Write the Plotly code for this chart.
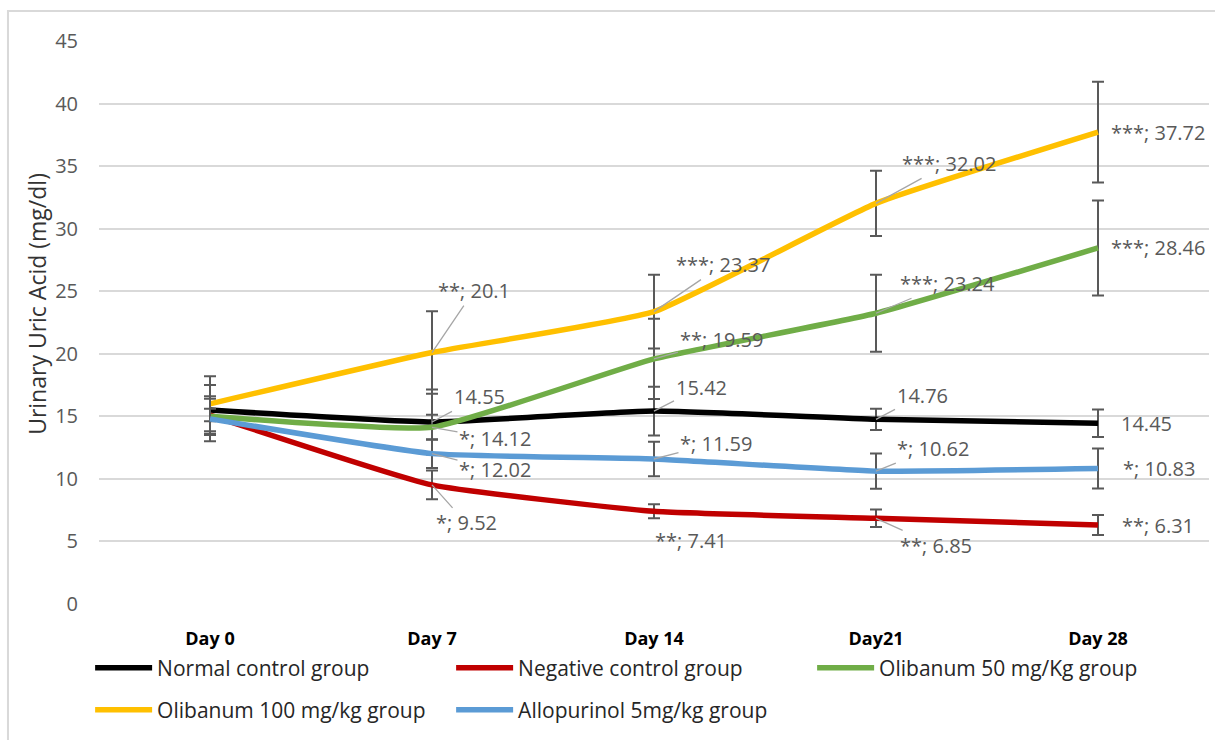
import plotly.graph_objects as go

# ---- data -------------------------------------------------------------
days = ["Day 0", "Day 7", "Day 14", "Day21", "Day 28"]

group_names = [
    "Normal control group",
    "Negative control group",
    "Olibanum 50 mg/Kg group",
    "Olibanum 100 mg/kg group",
    "Allopurinol 5mg/kg group",
]

normal = [15.5, 14.55, 15.42, 14.76, 14.45]
negative = [15.1, 9.52, 7.41, 6.85, 6.31]
olib50 = [15.0, 14.12, 19.59, 23.24, 28.46]
olib100 = [16.0, 20.1, 23.37, 32.02, 37.72]
allo = [14.8, 12.02, 11.59, 10.62, 10.83]

normal_err = [2.0, 2.6, 1.95, 0.85, 1.1]
negative_err = [0.5, 1.15, 0.56, 0.7, 0.8]
olib50_err = [1.4, 1.0, 3.2, 3.07, 3.8]
olib100_err = [2.2, 3.3, 2.95, 2.6, 4.03]
allo_err = [1.8, 1.15, 1.37, 1.4, 1.6]

normal_sig = ["", "", "", "", ""]
negative_sig = ["", "*", "**", "**", "**"]
olib50_sig = ["", "*", "**", "***", "***"]
olib100_sig = ["", "**", "***", "***", "***"]
allo_sig = ["", "*", "*", "*", "*"]

# ---- styling ----------------------------------------------------------
colors = ["#000000", "#C00000", "#70AD47", "#FFC000", "#5B9BD5"]
legend_of = ["legend", "legend", "legend", "legend2", "legend2"]

# label offsets (pixels from the point) and whether a leader line is drawn
label_offsets = [
    [None, (47, -25, True), (47, -24, True), (46, -24, True), (48, 0, False)],
    [None, (34, 38, True), (37, 29, False), (60, 27, True), (60, 0, False)],
    [None, (63, 11, True), (67, -19, True), (71, -30, True), (60, 0, False)],
    [None, (42, -62, True), (69, -47, True), (73, -40, True), (60, 0, False)],
    [None, (63, 16, True), (62, -16, True), (57, -23, True), (61, 0, False)],
]

series = [normal, negative, olib50, olib100, allo]
errors = [normal_err, negative_err, olib50_err, olib100_err, allo_err]
sigs = [normal_sig, negative_sig, olib50_sig, olib100_sig, allo_sig]

FONT = "Open Sans"
LABEL_GRAY = "#595959"

fig = go.Figure()
annotations = []

for i, (name, vals, err, sig) in enumerate(zip(group_names, series, errors, sigs)):
    fig.add_trace(
        go.Scatter(
            x=days,
            y=vals,
            name=name,
            mode="lines",
            line=dict(color=colors[i], width=5.5, shape="spline", smoothing=0.4),
            error_y=dict(
                type="data",
                array=err,
                visible=True,
                color="#595959",
                thickness=2,
                width=6,
            ),
            legend=legend_of[i],
        )
    )
    for j, v in enumerate(vals):
        off = label_offsets[i][j]
        if off is None:
            continue
        ax, ay, leader = off
        txt = f"{sig[j]}; {v:g}" if sig[j] else f"{v:g}"
        annotations.append(
            dict(
                x=days[j],
                y=v,
                xref="x",
                yref="y",
                text=txt,
                showarrow=True,
                arrowhead=0,
                arrowwidth=1.3,
                arrowcolor="#A6A6A6" if leader else "rgba(0,0,0,0)",
                standoff=0,
                ax=ax,
                ay=ay,
                font=dict(family=FONT, size=20, color=LABEL_GRAY),
            )
        )

# y-axis title
annotations.append(
    dict(
        x=-0.0559,
        y=0.533,
        xref="paper",
        yref="paper",
        text="Urinary Uric Acid (mg/dl)",
        textangle=-90,
        showarrow=False,
        xanchor="center",
        yanchor="middle",
        font=dict(family=FONT, size=23, color="#333333"),
    )
)

legend_common = dict(
    orientation="h",
    xanchor="left",
    yanchor="middle",
    x=-0.008,
    entrywidth=289,
    entrywidthmode="pixels",
    font=dict(family=FONT, size=21, color="#262626"),
    bgcolor="rgba(0,0,0,0)",
    itemwidth=57,
    traceorder="normal",
)

fig.update_layout(
    width=1215,
    height=740,
    margin=dict(l=99, r=6, t=41, b=136),
    paper_bgcolor="white",
    plot_bgcolor="white",
    showlegend=True,
    legend=dict(legend_common, y=-0.1137),
    legend2=dict(legend_common, y=-0.1883),
    annotations=annotations,
    shapes=[
        dict(
            type="rect",
            xref="paper",
            yref="paper",
            x0=-0.082,
            x1=1.02,
            y0=-0.3,
            y1=1.0533,
            line=dict(color="#D9D9D9", width=2),
            fillcolor="rgba(0,0,0,0)",
            layer="below",
        )
    ],
)

fig.update_xaxes(
    type="category",
    range=[-0.5, 4.5],
    showgrid=False,
    showline=False,
    zeroline=False,
    ticks="outside",
    ticklen=18,
    tickcolor="rgba(0,0,0,0)",
    tickfont=dict(family=FONT, size=18, color="#000000", weight="bold"),
)

fig.update_yaxes(
    range=[0, 45],
    dtick=5,
    showgrid=True,
    gridcolor="#D9D9D9",
    gridwidth=2,
    zeroline=False,
    showline=False,
    ticks="outside",
    ticklen=16,
    tickcolor="rgba(0,0,0,0)",
    tickfont=dict(family=FONT, size=20, color=LABEL_GRAY),
)

fig.write_html("out.html")
